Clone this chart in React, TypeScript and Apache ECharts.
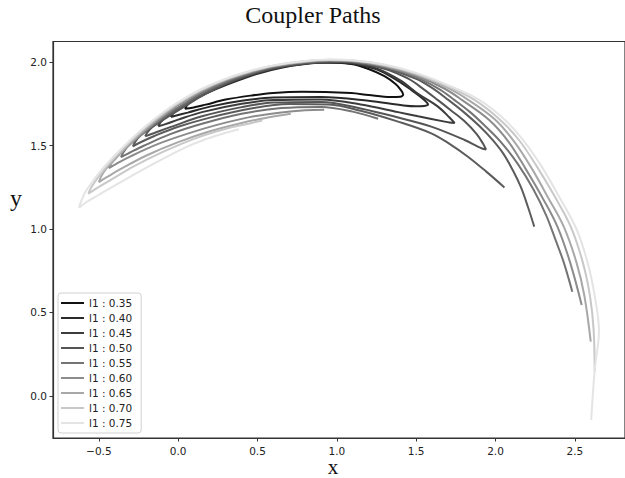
import { useEffect, useRef } from 'react';
import * as echarts from 'echarts';

// Series names (one per traced path) and legend entries
const pathNames = [
  'l1 : 0.35', 'l1 : 0.40', 'l1 : 0.45', 'l1 : 0.50', 'l1 : 0.50',
  'l1 : 0.55', 'l1 : 0.60', 'l1 : 0.65', 'l1 : 0.70', 'l1 : 0.75',
];
const legendNames = [
  'l1 : 0.35', 'l1 : 0.40', 'l1 : 0.45', 'l1 : 0.50', 'l1 : 0.55',
  'l1 : 0.60', 'l1 : 0.65', 'l1 : 0.70', 'l1 : 0.75',
];
const xTicks = [-0.5, 0, 0.5, 1, 1.5, 2, 2.5];
const yTicks = [0, 0.5, 1, 1.5, 2];

const path035 = [[0.042,1.72],[0.06,1.745],[0.09,1.768],[0.15,1.8],[0.257,1.857],[0.4,1.918],[0.571,1.966],[0.75,1.99],[0.9,1.997],[1.09,1.988],[1.2,1.958],[1.3,1.915],[1.37,1.868],[1.405,1.83],[1.418,1.805],[1.4,1.792],[1.34,1.79],[1.2,1.802],[1.09,1.814],[0.78,1.822],[0.6,1.815],[0.465,1.8],[0.3,1.775],[0.174,1.745],[0.09,1.726],[0.042,1.72]];
const path040 = [[-0.047,1.671],[-0.03,1.695],[0,1.72],[0.06,1.755],[0.15,1.8],[0.25,1.842],[0.35,1.88],[0.5,1.93],[0.65,1.966],[0.8,1.988],[0.95,1.997],[1.1,1.99],[1.25,1.956],[1.38,1.89],[1.47,1.832],[1.53,1.79],[1.565,1.76],[1.575,1.745],[1.55,1.737],[1.5,1.735],[1.42,1.74],[1.2,1.768],[0.9,1.79],[0.6,1.787],[0.4,1.768],[0.2,1.733],[0.06,1.697],[-0.047,1.671]];
const path045 = [[-0.126,1.615],[-0.11,1.64],[-0.08,1.668],[-0.02,1.705],[0.07,1.76],[0.18,1.815],[0.3,1.866],[0.45,1.92],[0.6,1.96],[0.8,1.99],[0.95,2.0],[1.1,1.994],[1.25,1.962],[1.4,1.89],[1.512,1.81],[1.637,1.733],[1.71,1.668],[1.742,1.635],[1.71,1.638],[1.68,1.643],[1.512,1.675],[1.386,1.7],[1.15,1.746],[0.9,1.776],[0.6,1.772],[0.4,1.75],[0.15,1.7],[0,1.655],[-0.08,1.628],[-0.126,1.615]];
const path050 = [[-0.208,1.555],[-0.193,1.58],[-0.16,1.612],[-0.1,1.65],[0,1.71],[0.15,1.798],[0.3,1.87],[0.45,1.924],[0.6,1.963],[0.8,1.992],[0.95,2.002],[1.1,1.997],[1.3,1.96],[1.45,1.9],[1.55,1.835],[1.637,1.772],[1.72,1.71],[1.805,1.645],[1.88,1.57],[1.92,1.513],[1.94,1.476],[1.915,1.482],[1.888,1.493],[1.805,1.533],[1.595,1.613],[1.386,1.668],[1.15,1.722],[0.9,1.761],[0.6,1.757],[0.4,1.73],[0.15,1.675],[-0.05,1.61],[-0.15,1.575],[-0.208,1.555]];
const path050b = [[2.056,1.249],[1.94,1.345],[1.826,1.433],[1.71,1.51],[1.595,1.573],[1.386,1.643],[1.15,1.708],[0.95,1.745],[0.7,1.748],[0.45,1.72],[0.2,1.667],[0,1.612],[-0.15,1.557],[-0.24,1.518],[-0.285,1.495],[-0.27,1.523],[-0.24,1.558],[-0.18,1.6],[-0.1,1.655],[0,1.716],[0.15,1.805],[0.3,1.876],[0.45,1.928],[0.6,1.967],[0.8,1.995],[0.95,2.005],[1.1,2.0],[1.3,1.966],[1.5,1.9],[1.6,1.845],[1.7,1.775],[1.8,1.7],[1.9,1.615],[1.98,1.535],[2.05,1.45],[2.11,1.35],[2.16,1.25],[2.205,1.13],[2.244,1.014]];
const path055 = [[1.26,1.66],[1.1,1.703],[0.9,1.731],[0.65,1.724],[0.4,1.69],[0.15,1.63],[-0.05,1.568],[-0.22,1.497],[-0.31,1.455],[-0.36,1.431],[-0.345,1.46],[-0.315,1.497],[-0.25,1.55],[-0.15,1.628],[-0.05,1.698],[0.05,1.757],[0.15,1.815],[0.3,1.882],[0.45,1.932],[0.6,1.97],[0.8,1.998],[0.95,2.008],[1.1,2.003],[1.3,1.97],[1.5,1.91],[1.65,1.835],[1.742,1.772],[1.84,1.7],[1.92,1.63],[2.03,1.525],[2.14,1.39],[2.24,1.235],[2.32,1.08],[2.38,0.93],[2.43,0.8],[2.484,0.624]];
const path060 = [[0.92,1.714],[0.8,1.711],[0.65,1.698],[0.45,1.67],[0.25,1.625],[0.05,1.568],[-0.13,1.508],[-0.3,1.435],[-0.39,1.39],[-0.437,1.365],[-0.42,1.395],[-0.39,1.435],[-0.3,1.51],[-0.2,1.595],[-0.1,1.672],[0,1.742],[0.15,1.825],[0.3,1.889],[0.45,1.937],[0.6,1.974],[0.8,2.0],[0.95,2.01],[1.1,2.005],[1.3,1.975],[1.5,1.918],[1.68,1.84],[1.79,1.772],[1.96,1.653],[2.08,1.525],[2.19,1.36],[2.3,1.18],[2.39,1.014],[2.47,0.8],[2.543,0.545]];
const path065 = [[0.71,1.69],[0.55,1.665],[0.4,1.635],[0.2,1.585],[0,1.52],[-0.2,1.44],[-0.37,1.355],[-0.45,1.31],[-0.5,1.281],[-0.485,1.315],[-0.455,1.36],[-0.4,1.415],[-0.3,1.515],[-0.2,1.603],[-0.1,1.68],[0,1.748],[0.15,1.83],[0.3,1.893],[0.45,1.94],[0.6,1.976],[0.8,2.002],[0.95,2.011],[1.1,2.007],[1.3,1.978],[1.5,1.925],[1.7,1.845],[1.83,1.772],[2.0,1.653],[2.12,1.52],[2.23,1.36],[2.33,1.19],[2.43,1.014],[2.51,0.8],[2.56,0.6],[2.6,0.325]];
const path070 = [[0.53,1.65],[0.45,1.632],[0.3,1.6],[0.1,1.54],[-0.1,1.46],[-0.28,1.375],[-0.44,1.285],[-0.52,1.24],[-0.566,1.212],[-0.55,1.245],[-0.52,1.29],[-0.45,1.375],[-0.4,1.428],[-0.3,1.525],[-0.2,1.612],[-0.1,1.688],[0,1.754],[0.15,1.835],[0.3,1.897],[0.45,1.943],[0.6,1.978],[0.8,2.004],[0.95,2.013],[1.1,2.009],[1.3,1.982],[1.5,1.93],[1.7,1.853],[1.87,1.772],[2.03,1.653],[2.15,1.53],[2.26,1.375],[2.37,1.2],[2.474,1.014],[2.55,0.8],[2.595,0.6],[2.618,0.4],[2.625,0.146]];
const path075 = [[0.383,1.597],[0.28,1.57],[0.16,1.533],[0.05,1.49],[-0.13,1.403],[-0.34,1.293],[-0.5,1.205],[-0.58,1.16],[-0.625,1.128],[-0.61,1.17],[-0.58,1.23],[-0.55,1.27],[-0.5,1.335],[-0.4,1.44],[-0.3,1.535],[-0.2,1.62],[-0.1,1.695],[0,1.76],[0.15,1.84],[0.3,1.9],[0.45,1.946],[0.6,1.98],[0.8,2.006],[0.95,2.015],[1.1,2.011],[1.3,1.985],[1.5,1.935],[1.7,1.862],[1.9,1.772],[2.06,1.653],[2.18,1.525],[2.29,1.375],[2.4,1.195],[2.51,1.0],[2.58,0.8],[2.625,0.6],[2.652,0.39],[2.625,0.156],[2.603,-0.144]];

const paths = [path035, path040, path045, path050, path050b, path055, path060, path065, path070, path075];
const pathColors = ['#111111', '#2a2a2a', '#3c3c3c', '#555555', '#5c5c5c', '#747474', '#8c8c8c', '#a8a8a8', '#c8c8c8', '#e4e4e4'];

const fmt = (v: number) => v.toFixed(1).replace('-', '\u2212');

export default function App() {
  const ref = useRef<HTMLDivElement>(null);
  useEffect(() => {
    document.body.style.margin = '0';
    const chart = echarts.init(ref.current!, null, { renderer: 'svg' });
    const labelFont = { fontSize: 10.5, color: '#222', fontFamily: 'DejaVu Sans' };
    chart.setOption({
      animation: false,
      backgroundColor: '#ffffff',
      grid: {
        left: 53, top: 41.5, width: 575, height: 396.5,
        show: true, borderColor: '#333', borderWidth: 1.2, backgroundColor: 'transparent',
      },
      xAxis: {
        type: 'value', min: -0.789, max: 2.816,
        splitLine: { show: false },
        axisLine: { show: true, onZero: false, lineStyle: { color: '#333', width: 1.2 } },
        axisTick: { show: true, length: 3.5, customValues: xTicks, lineStyle: { color: '#333' } },
        axisLabel: { customValues: xTicks, formatter: fmt, margin: 7, ...labelFont },
      },
      yAxis: {
        type: 'value', min: -0.252, max: 2.123,
        splitLine: { show: false },
        axisLine: { show: true, onZero: false, lineStyle: { color: '#333', width: 1.2 } },
        axisTick: { show: true, length: 3.5, customValues: yTicks, lineStyle: { color: '#333' } },
        axisLabel: { customValues: yTicks, formatter: fmt, margin: 6, ...labelFont },
      },
      legend: {
        data: legendNames,
        orient: 'vertical',
        left: 58, top: 293,
        icon: 'rect',
        itemWidth: 23, itemHeight: 2,
        itemGap: 3,
        padding: [4, 9, 4, 3],
        backgroundColor: '#fff',
        borderColor: '#d0d0d0', borderWidth: 1, borderRadius: 3,
        textStyle: { fontSize: 10.5, lineHeight: 12, color: '#222', fontFamily: 'DejaVu Sans' },
      },
      graphic: [
        { type: 'text', x: 313, y: 15, style: { text: 'Coupler Paths', font: '24px "Liberation Serif"', fill: '#111', textAlign: 'center', textVerticalAlign: 'middle' } },
        { type: 'text', x: 333, y: 477, style: { text: 'x', font: '21px "Liberation Serif"', fill: '#111', textAlign: 'center', textVerticalAlign: 'bottom' } },
        { type: 'text', x: 16, y: 198, style: { text: 'y', font: '24px "Liberation Serif"', fill: '#111', textAlign: 'center', textVerticalAlign: 'middle' } },
      ],
      series: paths.map((p, i) => ({
        type: 'line',
        name: pathNames[i],
        data: p,
        showSymbol: false,
        symbol: 'none',
        smooth: 0.35,
        clip: true,
        lineStyle: { color: pathColors[i], width: 2 },
        itemStyle: { color: pathColors[i] },
      })),
    });
    return () => chart.dispose();
  }, []);
  return <div ref={ref} style={{ width: 625, height: 478 }} />;
}
